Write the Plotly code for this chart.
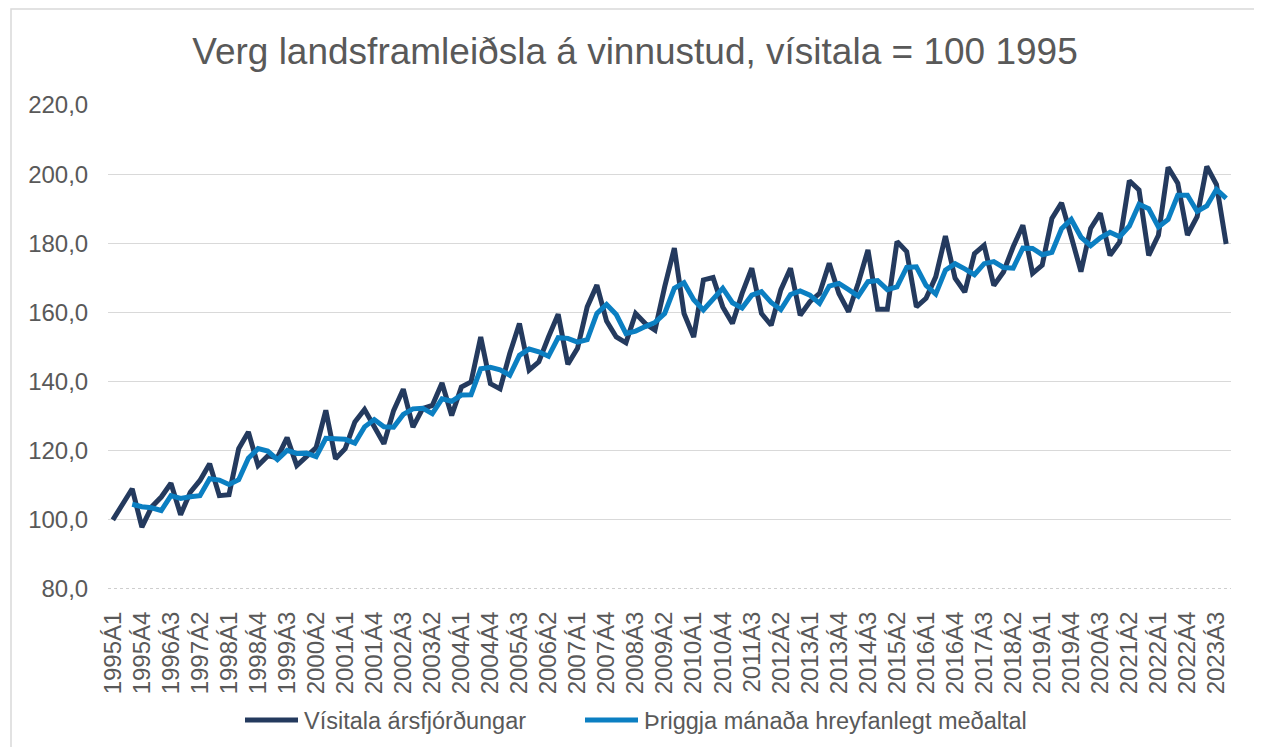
import plotly.graph_objects as go

years = list(range(1995, 2024))
quarters = [f"{y}Á{q}" for y in years for q in range(1, 5)]

visitala = [
    100.0, 104.5, 109.0, 97.9, 103.7, 106.6, 110.6, 101.5, 108.0, 111.4,
    116.2, 107.0, 107.3, 120.6, 125.4, 115.7, 118.5, 118.0, 123.8, 115.7,
    118.3, 120.9, 131.7, 117.7, 120.6, 128.3, 131.9, 126.8, 122.0, 131.6,
    137.8, 126.8, 132.2, 133.1, 139.6, 130.2, 138.4, 139.9, 152.9, 139.4,
    137.9, 148.1, 156.8, 143.3, 145.7, 152.9, 159.5, 145.0, 149.6, 161.6,
    167.9, 157.5, 152.9, 151.2, 159.7, 156.8, 154.9, 167.4, 178.6, 159.7,
    152.9, 169.4, 170.1, 161.6, 156.8, 165.5, 172.8, 159.7, 156.3, 166.5,
    172.8, 159.2, 163.1, 165.5, 174.2, 165.5, 160.2, 168.5, 178.1, 160.9,
    160.9, 180.5, 177.6, 161.6, 164.1, 170.3, 182.1, 169.9, 165.9, 177.0,
    179.4, 167.8, 171.7, 179.0, 185.2, 171.3, 173.7, 187.2, 191.7, 181.9,
    171.8, 184.3, 188.7, 176.5, 180.4, 198.1, 195.4, 176.5, 182.3, 202.0,
    197.4, 182.4, 187.7, 202.2, 197.0, 179.8,
]

medaltal = [
    None, None, 104.5, 103.8, 103.5, 102.7, 107.0, 106.2, 106.7, 107.0,
    111.9, 111.5, 110.2, 111.6, 117.8, 120.6, 119.9, 117.4, 120.1, 119.2,
    119.3, 118.3, 123.6, 123.4, 123.3, 122.2, 126.9, 129.0, 126.9, 126.8,
    130.5, 132.1, 132.3, 130.7, 135.0, 134.3, 136.1, 136.2, 143.7, 144.1,
    143.4, 141.8, 147.6, 149.4, 148.6, 147.3, 152.7, 152.5, 151.4, 152.1,
    159.7, 162.3, 159.4, 153.9, 154.6, 155.9, 157.1, 159.7, 167.0, 168.6,
    163.7, 160.7, 164.1, 167.0, 162.8, 161.3, 165.0, 166.0, 162.9, 160.8,
    165.2, 166.2, 165.0, 162.6, 167.6, 168.4, 166.6, 164.7, 168.9, 169.2,
    166.6, 167.4, 173.0, 173.2, 167.8, 165.3, 172.2, 174.1, 172.6, 170.9,
    174.1, 174.7, 173.0, 172.8, 178.6, 178.5, 176.7, 177.4, 184.2, 186.9,
    181.8, 179.3, 181.6, 183.2, 181.9, 185.0, 191.3, 190.0, 184.7, 186.9,
    193.9, 193.9, 189.2, 190.8, 195.6, 193.0,
]

y_ticks = [80, 100, 120, 140, 160, 180, 200, 220]
y_ticktext = ["80,0", "100,0", "120,0", "140,0", "160,0", "180,0", "200,0", "220,0"]
x_ticks = quarters[::3]

title_text = "Verg landsframleiðsla á vinnustud, vísitala = 100 1995"
name1 = "Vísitala ársfjórðungar"
name2 = "Þriggja mánaða hreyfanlegt meðaltal"

DARK = "#243a5e"
LIGHT = "#0b7fc2"
GREY = "#595959"
FONT = "Liberation Sans, Arial, sans-serif"

fig = go.Figure()
fig.add_trace(go.Scatter(x=quarters, y=visitala, mode="lines", name=name1,
                         line=dict(color=DARK, width=5)))
fig.add_trace(go.Scatter(x=quarters, y=medaltal, mode="lines", name=name2,
                         line=dict(color=LIGHT, width=5)))

# the page body has an 8px margin, so the figure is sized to fit inside it
OFF = 8
W, H = 1262 - 2 * OFF, 755 - 2 * OFF
L, T = 108 - OFF, 105 - OFF
R = W - (1231 - OFF)
B = H - (589 - OFF)
ph = H - T - B
pw = W - L - R


def px_x(p):
    return (p - OFF - L) / pw


def px_y(p):
    return (H - B - (p - OFF)) / ph


fig.update_layout(
    width=W, height=H,
    margin=dict(l=L, r=R, t=T, b=B, pad=0, autoexpand=False),
    paper_bgcolor="white", plot_bgcolor="white",
    font=dict(family=FONT, color=GREY, size=24),
    title=dict(text=title_text, x=(635 - OFF) / W, xanchor="center", xref="container",
               y=1 - (51 - OFF) / H, yanchor="middle", yref="container",
               font=dict(size=37, color=GREY, family=FONT)),
    showlegend=False,
    xaxis=dict(type="category", range=[-0.5, len(quarters) - 0.5],
               tickmode="array", tickvals=x_ticks, ticktext=x_ticks,
               tickangle=-90, showgrid=False, showline=False, zeroline=False,
               automargin=False,
               ticks="outside", ticklen=12, tickcolor="rgba(0,0,0,0)",
               tickfont=dict(size=24, color=GREY, family=FONT)),
    yaxis=dict(range=[80, 220], tickmode="array", tickvals=y_ticks,
               ticktext=y_ticktext, showgrid=True, gridcolor="#d9d9d9",
               gridwidth=1.3, zeroline=False, showline=False, automargin=False,
               ticks="outside", ticklen=14, tickcolor="rgba(0,0,0,0)",
               tickfont=dict(size=24, color=GREY, family=FONT)),
)

shapes = []
# cover solid gridline at 80 and draw dotted axis line
shapes.append(dict(type="line", xref="paper", yref="y", x0=0, x1=1, y0=80, y1=80,
                   line=dict(color="white", width=3), layer="above"))
shapes.append(dict(type="line", xref="paper", yref="y", x0=0, x1=1, y0=80, y1=80,
                   line=dict(color="#bfbfbf", width=1.3, dash="dot"), layer="above"))
# outer chart border
shapes.append(dict(type="rect", xref="paper", yref="paper",
                   x0=px_x(11), x1=px_x(1258), y0=px_y(770), y1=px_y(9),
                   line=dict(color="#d9d9d9", width=1.5), fillcolor="rgba(0,0,0,0)",
                   layer="below"))

# legend (drawn manually to match sample length and spacing)
legend_items = [(name1, DARK, 243), (name2, LIGHT, 583)]
annotations = []
for name, color, x0 in legend_items:
    shapes.append(dict(type="line", xref="paper", yref="paper",
                       x0=px_x(x0 + 2), x1=px_x(x0 + 55), y0=px_y(720), y1=px_y(720),
                       line=dict(color=color, width=5)))
    annotations.append(dict(text=name, xref="paper", yref="paper",
                            x=px_x(x0 + 59), y=px_y(721), xanchor="left",
                            yanchor="middle", showarrow=False,
                            font=dict(size=23.5, color=GREY, family=FONT)))

fig.update_layout(shapes=shapes, annotations=annotations)

fig.write_html("out.html")
